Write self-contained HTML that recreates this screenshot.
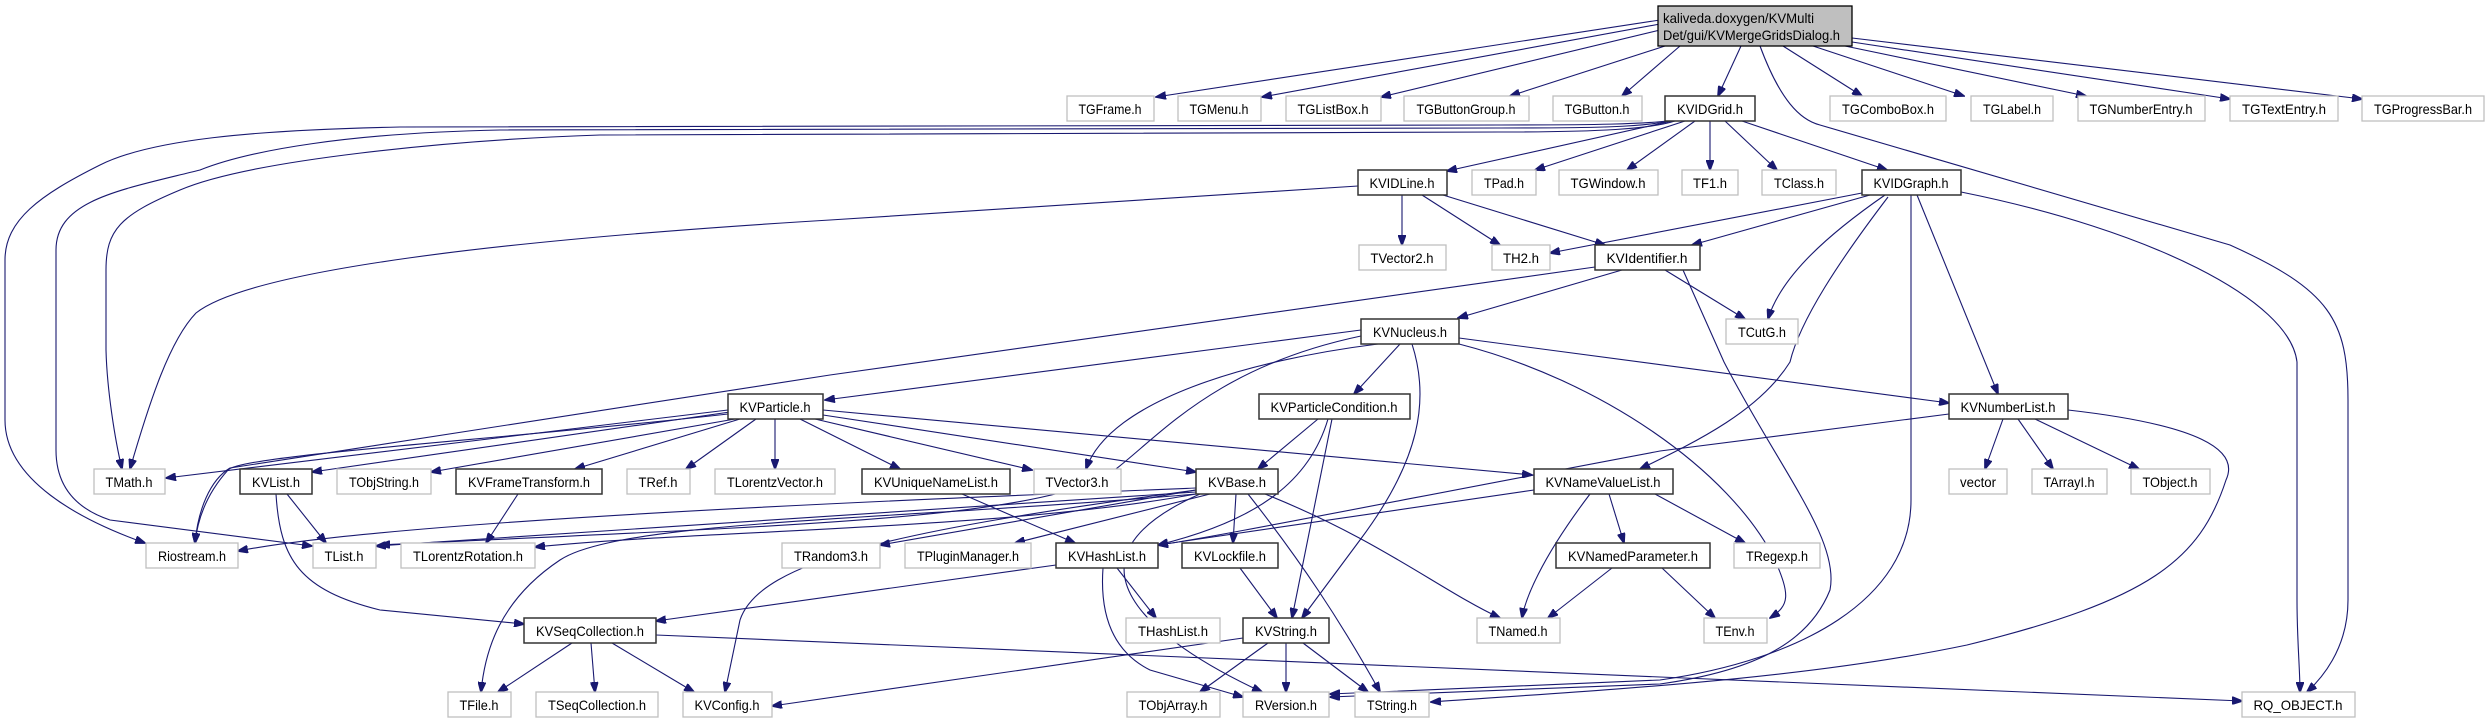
<!DOCTYPE html>
<html><head><meta charset="utf-8"><style>
html,body{margin:0;padding:0;background:#fff;}
svg{display:block;}
text{font-family:"Liberation Sans",sans-serif;font-size:14px;fill:#000;text-anchor:middle;}
.n{fill:#fff;stroke:#bfbfbf;stroke-width:1.3;}
.b{fill:#fff;stroke:#333;stroke-width:1.5;}
path{fill:none;stroke:#191970;stroke-width:1.1;marker-end:url(#a);}
</style></head><body>
<svg width="2492" height="724" viewBox="0 0 2492 724" xmlns="http://www.w3.org/2000/svg">
<defs><marker id="a" markerWidth="11" markerHeight="8" refX="10" refY="4" orient="auto" markerUnits="userSpaceOnUse"><polygon points="0,0 11,4 0,8" fill="#191970" stroke="#191970"/></marker></defs>

<path d="M1660 20 L1156 97"/>
<path d="M1660 24 L1262 97"/>
<path d="M1660 30 L1381 97"/>
<path d="M1665 46 L1510 96"/>
<path d="M1680 46 L1622 96"/>
<path d="M1741 46 L1718 96"/>
<path d="M1783 46 L1862 96"/>
<path d="M1813 46 L1964 96"/>
<path d="M1845 46 L2086 96"/>
<path d="M1852 42 L2230 99"/>
<path d="M1852 38 L2362 99"/>
<path d="M1760 46 C1780 100 1800 120 1820 125 L2230 245 C2330 290 2348 320 2348 400 L2348 600 C2348 650 2320 680 2307 692"/>
<path d="M1672 121 L1447 171"/>
<path d="M1685 121 L1535 170"/>
<path d="M1695 121 L1627 170"/>
<path d="M1710 121 L1710 170"/>
<path d="M1725 121 L1777 170"/>
<path d="M1742 121 L1887 170"/>
<path d="M1667 121 C1640 124 1600 125 1500 125 L400 127 C250 130 150 140 100 165 C40 195 5 220 5 260 L5 420 C5 480 80 520 145 543"/>
<path d="M1670 121 C1640 127 1600 128 1500 128 L500 130 C350 133 250 150 200 170 C120 190 56 200 56 250 L56 450 C56 490 80 510 110 520 L312 546"/>
<path d="M1675 121 C1650 129 1600 132 1500 132 L600 135 C450 140 250 160 180 190 C120 215 106 230 106 270 L106 350 C107 390 115 440 122 469"/>
<path d="M1402 195 L1402 245"/>
<path d="M1422 195 L1500 245"/>
<path d="M1443 195 L1605 245"/>
<path d="M1358 186 L830 220 C500 240 250 270 196 313 C170 340 150 400 130 469"/>
<path d="M1862 193 L1550 253"/>
<path d="M1870 195 L1692 245"/>
<path d="M1885 195 C1820 240 1780 280 1768 319"/>
<path d="M1888 197 C1840 260 1800 320 1790 362 C1760 410 1700 440 1640 469"/>
<path d="M1911 195 L1911 500 C1911 600 1800 660 1660 680 L1330 694"/>
<path d="M1917 195 L1998 394"/>
<path d="M1961 192 C2150 230 2290 300 2297 362 L2297 600 C2297 640 2300 670 2300 692"/>
<path d="M1622 270 L1458 318"/>
<path d="M1665 270 L1745 319"/>
<path d="M1595 267 L830 375 L230 468 C210 480 198 510 195 543"/>
<path d="M1683 270 L1724 362 C1780 470 1840 540 1830 590 C1810 640 1760 670 1660 684 L1330 697"/>
<path d="M1361 330 L825 400"/>
<path d="M1400 344 L1354 394"/>
<path d="M1378 344 C1250 360 1110 400 1086 469"/>
<path d="M1412 344 C1430 400 1420 460 1360 540 L1302 618"/>
<path d="M1459 338 L1949 403"/>
<path d="M1459 344 C1600 380 1730 470 1775 560 C1790 595 1790 605 1770 618"/>
<path d="M1361 336 C1200 370 1150 450 1100 480 C1000 520 800 525 380 545"/>
<path d="M728 410 L166 478"/>
<path d="M730 412 L312 472"/>
<path d="M735 419 L431 472"/>
<path d="M740 419 L575 469"/>
<path d="M756 419 L686 469"/>
<path d="M775 419 L775 469"/>
<path d="M800 419 L900 469"/>
<path d="M815 419 L1032 470"/>
<path d="M823 415 L1196 472"/>
<path d="M823 410 L1532 475"/>
<path d="M728 414 C500 440 240 455 228 470 C210 490 198 515 195 543"/>
<path d="M1318 419 L1258 469"/>
<path d="M1332 419 L1292 618"/>
<path d="M1328 419 C1310 480 1260 520 1158 545"/>
<path d="M2003 419 L1985 469"/>
<path d="M2018 419 L2053 469"/>
<path d="M2035 419 L2139 469"/>
<path d="M2068 410 C2200 425 2240 450 2226 480 C2200 560 2150 600 1967 645 C1800 680 1600 690 1431 702"/>
<path d="M1949 414 L1660 451 C1400 500 1200 540 1158 545"/>
<path d="M287 494 L326 543"/>
<path d="M276 494 C280 560 300 590 380 610 L524 624"/>
<path d="M518 494 L486 543"/>
<path d="M962 494 L1075 543"/>
<path d="M1196 488 C900 500 400 520 238 551"/>
<path d="M1196 492 L376 546"/>
<path d="M1196 494 C1000 530 700 530 535 547"/>
<path d="M1196 490 L880 545"/>
<path d="M1210 494 L1015 543"/>
<path d="M1236 494 L1233 543"/>
<path d="M1248 494 C1300 560 1340 620 1380 692"/>
<path d="M1265 494 C1380 540 1440 590 1500 618"/>
<path d="M1196 494 C900 520 620 520 560 560 C500 600 485 650 481 692"/>
<path d="M1196 490 C900 530 760 560 740 620 L725 692"/>
<path d="M1200 494 C1050 560 1150 640 1262 692"/>
<path d="M1534 490 L1158 545"/>
<path d="M1609 494 L1624 543"/>
<path d="M1590 494 C1540 560 1525 600 1522 618"/>
<path d="M1655 494 L1745 543"/>
<path d="M1612 568 L1548 618"/>
<path d="M1662 568 L1715 618"/>
<path d="M1056 565 L656 621"/>
<path d="M1117 568 L1156 618"/>
<path d="M1103 568 C1100 610 1110 650 1150 670 L1243 697"/>
<path d="M1240 568 L1277 618"/>
<path d="M572 643 L498 692"/>
<path d="M591 643 L595 692"/>
<path d="M612 643 L694 692"/>
<path d="M656 635 L1660 677 L2242 701"/>
<path d="M1268 643 L1200 692"/>
<path d="M1286 643 L1286 692"/>
<path d="M1303 643 L1368 692"/>
<path d="M1243 638 L772 706"/>

<rect x="1658" y="6" width="194" height="40" fill="#bfbfbf" stroke="#000" stroke-width="1.3"/>
<text x="1663" y="23" style="text-anchor:start" textLength="151" lengthAdjust="spacingAndGlyphs">kaliveda.doxygen/KVMulti</text>
<text x="1663" y="40" style="text-anchor:start" textLength="177" lengthAdjust="spacingAndGlyphs">Det/gui/KVMergeGridsDialog.h</text>

<g lengthAdjust="spacingAndGlyphs">
<rect class="n" x="1067" y="96" width="87" height="25"/><text x="1110" y="114" textLength="63" lengthAdjust="spacingAndGlyphs">TGFrame.h</text>
<rect class="n" x="1178" y="96" width="83" height="25"/><text x="1219" y="114" textLength="59" lengthAdjust="spacingAndGlyphs">TGMenu.h</text>
<rect class="n" x="1286" y="96" width="95" height="25"/><text x="1333" y="114" textLength="71" lengthAdjust="spacingAndGlyphs">TGListBox.h</text>
<rect class="n" x="1404" y="96" width="125" height="25"/><text x="1466" y="114" textLength="99" lengthAdjust="spacingAndGlyphs">TGButtonGroup.h</text>
<rect class="n" x="1553" y="96" width="89" height="25"/><text x="1597" y="114" textLength="65" lengthAdjust="spacingAndGlyphs">TGButton.h</text>
<rect class="b" x="1665" y="96" width="90" height="25"/><text x="1710" y="114" textLength="66" lengthAdjust="spacingAndGlyphs">KVIDGrid.h</text>
<rect class="n" x="1830" y="96" width="116" height="25"/><text x="1888" y="114" textLength="92" lengthAdjust="spacingAndGlyphs">TGComboBox.h</text>
<rect class="n" x="1971" y="96" width="82" height="25"/><text x="2012" y="114" textLength="58" lengthAdjust="spacingAndGlyphs">TGLabel.h</text>
<rect class="n" x="2078" y="96" width="127" height="25"/><text x="2141" y="114" textLength="103" lengthAdjust="spacingAndGlyphs">TGNumberEntry.h</text>
<rect class="n" x="2230" y="96" width="108" height="25"/><text x="2284" y="114" textLength="84" lengthAdjust="spacingAndGlyphs">TGTextEntry.h</text>
<rect class="n" x="2362" y="96" width="122" height="25"/><text x="2423" y="114" textLength="98" lengthAdjust="spacingAndGlyphs">TGProgressBar.h</text>

<rect class="b" x="1358" y="170" width="89" height="25"/><text x="1402" y="188" textLength="65" lengthAdjust="spacingAndGlyphs">KVIDLine.h</text>
<rect class="n" x="1472" y="170" width="64" height="25"/><text x="1504" y="188" textLength="40" lengthAdjust="spacingAndGlyphs">TPad.h</text>
<rect class="n" x="1559" y="170" width="99" height="25"/><text x="1608" y="188" textLength="75" lengthAdjust="spacingAndGlyphs">TGWindow.h</text>
<rect class="n" x="1682" y="170" width="56" height="25"/><text x="1710" y="188" textLength="34" lengthAdjust="spacingAndGlyphs">TF1.h</text>
<rect class="n" x="1762" y="170" width="74" height="25"/><text x="1799" y="188" textLength="50" lengthAdjust="spacingAndGlyphs">TClass.h</text>
<rect class="b" x="1862" y="170" width="99" height="25"/><text x="1911" y="188" textLength="75" lengthAdjust="spacingAndGlyphs">KVIDGraph.h</text>

<rect class="n" x="1359" y="245" width="87" height="25"/><text x="1402" y="263" textLength="63" lengthAdjust="spacingAndGlyphs">TVector2.h</text>
<rect class="n" x="1492" y="245" width="58" height="25"/><text x="1521" y="263" textLength="36" lengthAdjust="spacingAndGlyphs">TH2.h</text>
<rect class="b" x="1595" y="245" width="105" height="25"/><text x="1647" y="263" textLength="81" lengthAdjust="spacingAndGlyphs">KVIdentifier.h</text>

<rect class="b" x="1361" y="319" width="98" height="25"/><text x="1410" y="337" textLength="74" lengthAdjust="spacingAndGlyphs">KVNucleus.h</text>
<rect class="n" x="1726" y="319" width="72" height="25"/><text x="1762" y="337" textLength="48" lengthAdjust="spacingAndGlyphs">TCutG.h</text>

<rect class="b" x="728" y="394" width="95" height="25"/><text x="775" y="412" textLength="71" lengthAdjust="spacingAndGlyphs">KVParticle.h</text>
<rect class="b" x="1259" y="394" width="151" height="25"/><text x="1334" y="412" textLength="127" lengthAdjust="spacingAndGlyphs">KVParticleCondition.h</text>
<rect class="b" x="1949" y="394" width="119" height="25"/><text x="2008" y="412" textLength="95" lengthAdjust="spacingAndGlyphs">KVNumberList.h</text>

<rect class="n" x="94" y="469" width="71" height="25"/><text x="129" y="487" textLength="47" lengthAdjust="spacingAndGlyphs">TMath.h</text>
<rect class="b" x="240" y="469" width="72" height="25"/><text x="276" y="487" textLength="48" lengthAdjust="spacingAndGlyphs">KVList.h</text>
<rect class="n" x="337" y="469" width="94" height="25"/><text x="384" y="487" textLength="70" lengthAdjust="spacingAndGlyphs">TObjString.h</text>
<rect class="b" x="456" y="469" width="146" height="25"/><text x="529" y="487" textLength="122" lengthAdjust="spacingAndGlyphs">KVFrameTransform.h</text>
<rect class="n" x="627" y="469" width="63" height="25"/><text x="658" y="487" textLength="39" lengthAdjust="spacingAndGlyphs">TRef.h</text>
<rect class="n" x="715" y="469" width="120" height="25"/><text x="775" y="487" textLength="96" lengthAdjust="spacingAndGlyphs">TLorentzVector.h</text>
<rect class="b" x="862" y="469" width="148" height="25"/><text x="936" y="487" textLength="124" lengthAdjust="spacingAndGlyphs">KVUniqueNameList.h</text>
<rect class="n" x="1034" y="469" width="87" height="25"/><text x="1077" y="487" textLength="63" lengthAdjust="spacingAndGlyphs">TVector3.h</text>
<rect class="b" x="1196" y="469" width="82" height="25"/><text x="1237" y="487" textLength="58" lengthAdjust="spacingAndGlyphs">KVBase.h</text>
<rect class="b" x="1534" y="469" width="139" height="25"/><text x="1603" y="487" textLength="115" lengthAdjust="spacingAndGlyphs">KVNameValueList.h</text>
<rect class="n" x="1949" y="469" width="58" height="25"/><text x="1978" y="487" textLength="36" lengthAdjust="spacingAndGlyphs">vector</text>
<rect class="n" x="2032" y="469" width="75" height="25"/><text x="2069" y="487" textLength="51" lengthAdjust="spacingAndGlyphs">TArrayI.h</text>
<rect class="n" x="2131" y="469" width="79" height="25"/><text x="2170" y="487" textLength="55" lengthAdjust="spacingAndGlyphs">TObject.h</text>

<rect class="n" x="146" y="543" width="92" height="25"/><text x="192" y="561" textLength="68" lengthAdjust="spacingAndGlyphs">Riostream.h</text>
<rect class="n" x="313" y="543" width="63" height="25"/><text x="344" y="561" textLength="39" lengthAdjust="spacingAndGlyphs">TList.h</text>
<rect class="n" x="401" y="543" width="134" height="25"/><text x="468" y="561" textLength="110" lengthAdjust="spacingAndGlyphs">TLorentzRotation.h</text>
<rect class="n" x="782" y="543" width="98" height="25"/><text x="831" y="561" textLength="74" lengthAdjust="spacingAndGlyphs">TRandom3.h</text>
<rect class="n" x="905" y="543" width="126" height="25"/><text x="968" y="561" textLength="102" lengthAdjust="spacingAndGlyphs">TPluginManager.h</text>
<rect class="b" x="1056" y="543" width="102" height="25"/><text x="1107" y="561" textLength="78" lengthAdjust="spacingAndGlyphs">KVHashList.h</text>
<rect class="b" x="1182" y="543" width="96" height="25"/><text x="1230" y="561" textLength="72" lengthAdjust="spacingAndGlyphs">KVLockfile.h</text>
<rect class="b" x="1556" y="543" width="154" height="25"/><text x="1633" y="561" textLength="130" lengthAdjust="spacingAndGlyphs">KVNamedParameter.h</text>
<rect class="n" x="1734" y="543" width="86" height="25"/><text x="1777" y="561" textLength="62" lengthAdjust="spacingAndGlyphs">TRegexp.h</text>

<rect class="b" x="524" y="618" width="132" height="25"/><text x="590" y="636" textLength="108" lengthAdjust="spacingAndGlyphs">KVSeqCollection.h</text>
<rect class="n" x="1126" y="618" width="94" height="25"/><text x="1173" y="636" textLength="70" lengthAdjust="spacingAndGlyphs">THashList.h</text>
<rect class="b" x="1243" y="618" width="86" height="25"/><text x="1286" y="636" textLength="62" lengthAdjust="spacingAndGlyphs">KVString.h</text>
<rect class="n" x="1477" y="618" width="83" height="25"/><text x="1518" y="636" textLength="59" lengthAdjust="spacingAndGlyphs">TNamed.h</text>
<rect class="n" x="1704" y="618" width="63" height="25"/><text x="1735" y="636" textLength="39" lengthAdjust="spacingAndGlyphs">TEnv.h</text>

<rect class="n" x="448" y="692" width="63" height="25"/><text x="479" y="710" textLength="39" lengthAdjust="spacingAndGlyphs">TFile.h</text>
<rect class="n" x="536" y="692" width="122" height="25"/><text x="597" y="710" textLength="98" lengthAdjust="spacingAndGlyphs">TSeqCollection.h</text>
<rect class="n" x="683" y="692" width="89" height="25"/><text x="727" y="710" textLength="65" lengthAdjust="spacingAndGlyphs">KVConfig.h</text>
<rect class="n" x="1127" y="692" width="93" height="25"/><text x="1173" y="710" textLength="69" lengthAdjust="spacingAndGlyphs">TObjArray.h</text>
<rect class="n" x="1243" y="692" width="86" height="25"/><text x="1286" y="710" textLength="62" lengthAdjust="spacingAndGlyphs">RVersion.h</text>
<rect class="n" x="1355" y="692" width="74" height="25"/><text x="1392" y="710" textLength="50" lengthAdjust="spacingAndGlyphs">TString.h</text>
<rect class="n" x="2242" y="692" width="113" height="25"/><text x="2298" y="710" textLength="89" lengthAdjust="spacingAndGlyphs">RQ_OBJECT.h</text>
</g>
</svg>
</body></html>
